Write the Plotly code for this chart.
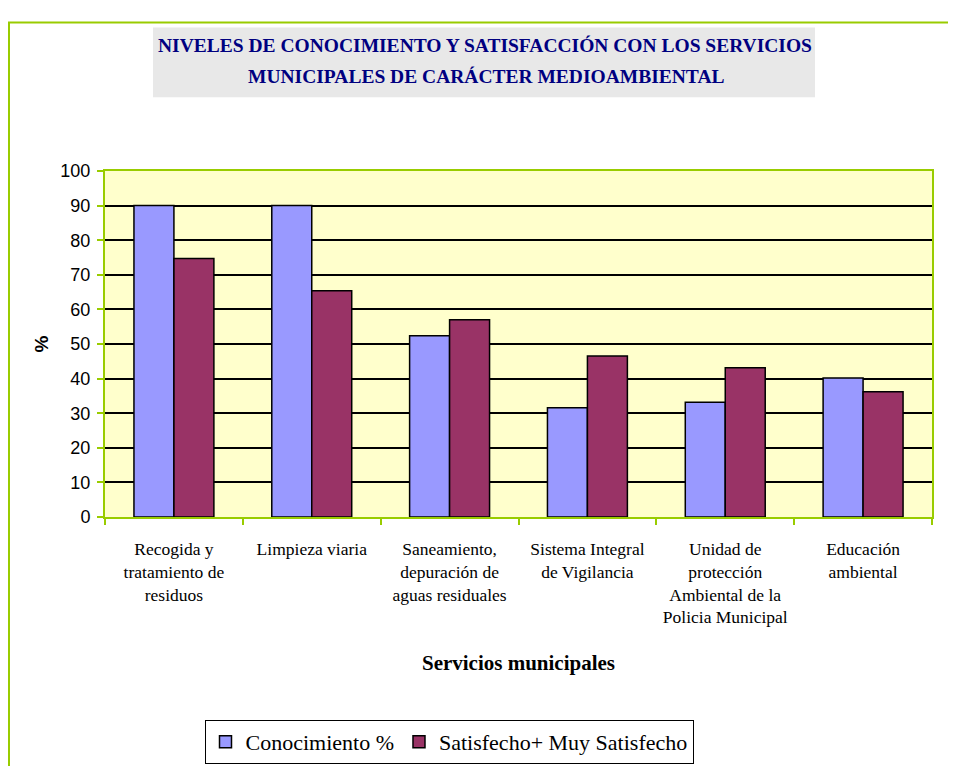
import plotly.graph_objects as go

servicios = [
    'Recogida y<br>tratamiento de<br>residuos',
    'Limpieza viaria',
    'Saneamiento,<br>depuración de<br>aguas residuales',
    'Sistema Integral<br>de Vigilancia',
    'Unidad de<br>protección<br>Ambiental de la<br>Policia Municipal',
    'Educación<br>ambiental',
]
conocimiento = [90, 90, 52.4, 31.6, 33.2, 40.2]
satisfecho = [74.7, 65.4, 57.0, 46.5, 43.1, 36.2]
y_ticks = [0, 10, 20, 30, 40, 50, 60, 70, 80, 90, 100]
titulo = ['NIVELES DE CONOCIMIENTO Y SATISFACCIÓN CON LOS SERVICIOS',
          'MUNICIPALES DE CARÁCTER MEDIOAMBIENTAL']

# page body adds an 8px margin, so screen coords are shifted by OFF
OFF = 8
W, H = 956, 766
L, T = 105 - OFF, 171 - OFF
R, B = W - (932 - OFF), H - (518 - OFF)
pw, ph = W - L - R, H - T - B


def px(x):
    return (x - OFF - L) / pw


def py(y):
    return (H - B - (y - OFF)) / ph


green = '#99CC00'

fig = go.Figure()
fig.add_trace(go.Bar(
    x=servicios, y=conocimiento, name='Conocimiento %',
    marker=dict(color='#9999FF', line=dict(color='black', width=1.5)),
))
fig.add_trace(go.Bar(
    x=servicios, y=satisfecho, name='Satisfecho+ Muy Satisfecho',
    marker=dict(color='#993366', line=dict(color='black', width=1.5)),
))

title_font = dict(family='Liberation Serif', size=19.5, color='#000080', weight='bold')
annotations = [
    dict(text=titulo[0], xref='paper', yref='paper', x=px(485), y=py(45),
         xanchor='center', yanchor='middle', showarrow=False, font=title_font),
    dict(text=titulo[1], xref='paper', yref='paper', x=px(486), y=py(76),
         xanchor='center', yanchor='middle', showarrow=False, font=title_font),
]

fig.update_layout(
    width=W, height=H,
    margin=dict(l=L, r=R, t=T, b=B),
    paper_bgcolor='white',
    plot_bgcolor='#FFFFCC',
    barmode='group',
    bargap=0.42,
    bargroupgap=0,
    annotations=annotations,
    xaxis=dict(
        type='category',
        tickson='boundaries',
        ticks='outside', ticklen=6, tickcolor=green, tickwidth=2,
        showline=True, linecolor=green, linewidth=2, mirror=True,
        showgrid=False,
        tickangle=0,
        tickfont=dict(family='Liberation Serif', size=17.5, color='black'),
        ticklabelstandoff=15,
        title=dict(text='<b>Servicios municipales</b>',
                   font=dict(family='Liberation Serif', size=21, color='black'),
                   standoff=29),
    ),
    yaxis=dict(
        range=[0, 100],
        tickvals=y_ticks,
        ticks='outside', ticklen=6, tickcolor=green, tickwidth=2,
        showline=True, linecolor=green, linewidth=2, mirror=True,
        showgrid=True, gridcolor='black', gridwidth=1.8,
        zeroline=False,
        tickfont=dict(family='Liberation Sans', size=18, color='black'),
        ticklabelstandoff=3,
        title=dict(text='<b>%</b>',
                   font=dict(family='Liberation Sans', size=19, color='black'),
                   standoff=7),
    ),
    legend=dict(
        orientation='h',
        x=px(449), xanchor='center',
        y=py(742), yanchor='middle',
        bordercolor='black', borderwidth=1,
        bgcolor='white',
        font=dict(family='Liberation Serif', size=22, color='black'),
        itemwidth=30,
        tracegroupgap=0,
    ),
    shapes=[
        dict(type='rect', xref='paper', yref='paper',
             x0=px(OFF + 1), x1=px(1010), y0=py(900), y1=py(22),
             line=dict(color=green, width=2), fillcolor='rgba(0,0,0,0)', layer='below'),
        dict(type='rect', xref='paper', yref='paper',
             x0=px(153), x1=px(815), y0=py(97), y1=py(27),
             line=dict(width=0), fillcolor='#E8E8E8', layer='below'),
    ],
)

fig.write_html('out.html')
